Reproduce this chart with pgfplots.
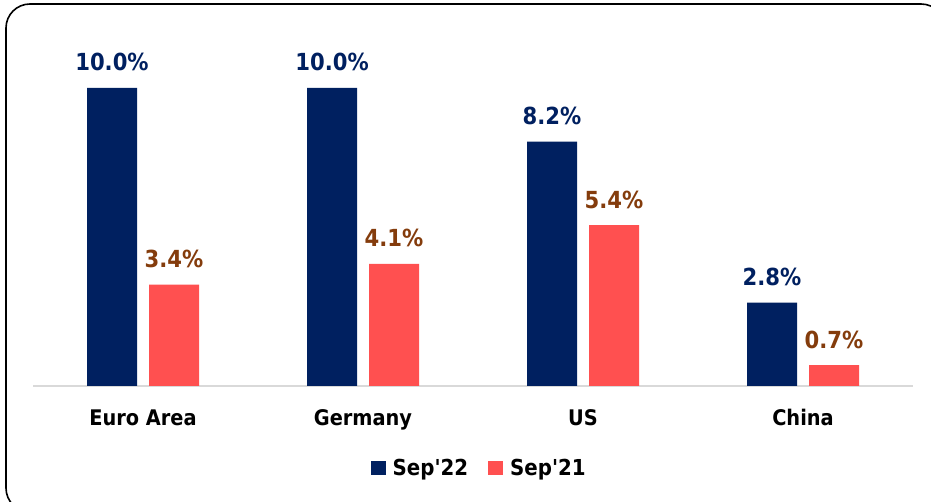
\documentclass[border=0pt]{standalone}
\usepackage{pgfplots}
\pgfplotsset{compat=1.18}
\usepackage{fontspec}
\setmainfont{DejaVu Sans Condensed}
\definecolor{navy}{HTML}{002060}
\definecolor{salmon}{HTML}{FF5050}
\definecolor{lblblue}{HTML}{002060}
\definecolor{lblbrown}{HTML}{843C0C}
\definecolor{basegray}{HTML}{D9D9D9}
\begin{document}
\begin{tikzpicture}
\useasboundingbox (0,0) rectangle (931pt,502pt);
\fill[white] (0,0) rectangle (931pt,502pt);
\draw[line width=1.6pt, rounded corners=24pt] (6pt,498pt) rectangle (945pt,-10pt);
\begin{axis}[
  at={(33pt,116pt)}, anchor=south west,
  scale only axis, width=880pt, height=357.6pt,
  xmin=-0.5, xmax=3.5, ymin=0, ymax=12,
  axis y line=none,
  axis x line*=bottom,
  x axis line style={basegray, line width=1.6pt},
  xtick={0,1,2,3},
  xticklabels={Euro Area,Germany,US,China},
  major tick length=0pt,
  xticklabel style={anchor=base, yshift=-40pt, font=\fontsize{21.5}{25}\selectfont\bfseries, text=black},
  ybar=12pt, bar width=50pt,
  nodes near coords={\pgfmathprintnumber[fixed,fixed zerofill,precision=1,assume math mode=true]{\pgfplotspointmeta}\%},
  nodes near coords style={anchor=base, yshift=17pt, font=\fontsize{23.5}{27}\selectfont\bfseries},
  legend style={at={(0.507,-0.229)}, anchor=center, draw=none, fill=none,
    legend columns=2, font=\fontsize{22}{25}\selectfont\bfseries,
    /tikz/every even column/.append style={column sep=18pt},
    legend cell align=left},
  legend image code/.code={\fill[#1] (0pt,-7pt) rectangle (15pt,7pt); \path (20pt,0pt);},
  clip=false,
]
\addplot[draw=none, fill=navy, every node near coord/.append style={text=lblblue}]
  coordinates {(0,10.0) (1,10.0) (2,8.2) (3,2.8)};
\addplot[draw=none, fill=salmon, every node near coord/.append style={text=lblbrown}]
  coordinates {(0,3.4) (1,4.1) (2,5.4) (3,0.7)};
\legend{Sep\textquotesingle22, Sep\textquotesingle21}
\end{axis}
\end{tikzpicture}
\end{document}
